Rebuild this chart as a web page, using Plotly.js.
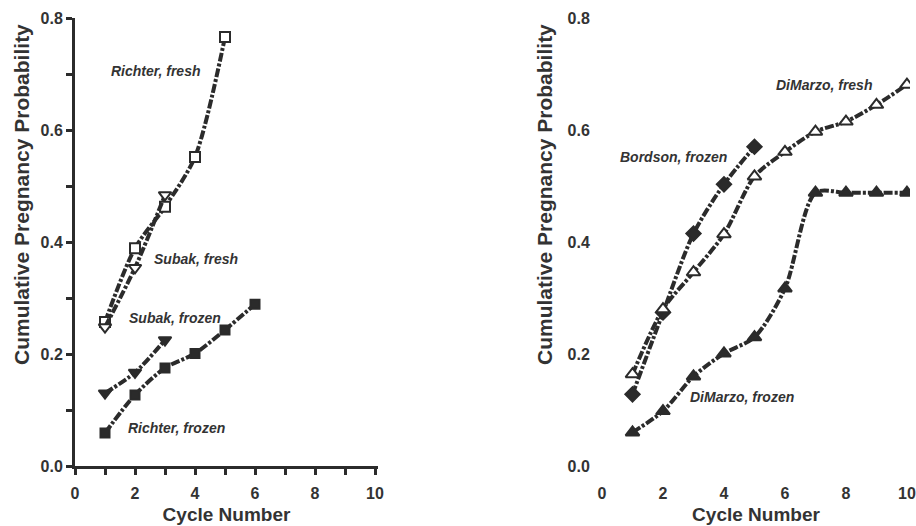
<!DOCTYPE html>
<html>
<head>
<meta charset="utf-8">
<script src="https://cdn.plot.ly/plotly-3.0.1.min.js"></script>
<style>
  html, body { margin: 0; padding: 0; background: #ffffff; }
  .layer { position: absolute; left: 0; top: 0; width: 916px; height: 526px; }
</style>
</head>
<body>
<div id="frame" class="layer"></div>
<div id="chart" class="layer"></div>
<script>
// Cumulative pregnancy probability by cycle number, fresh vs frozen donor insemination studies

// Left panel
const richterFreshCycles = [1, 2, 3, 4, 5];
const richterFresh = [0.257, 0.389, 0.463, 0.552, 0.766];
const subakFreshCycles = [1, 2, 3];
const subakFresh = [0.248, 0.354, 0.484];
const subakFrozenCycles = [1, 2, 3];
const subakFrozen = [0.130, 0.167, 0.225];
const richterFrozenCycles = [1, 2, 3, 4, 5, 6];
const richterFrozen = [0.059, 0.127, 0.175, 0.201, 0.243, 0.289];

// Right panel
const bordsonFrozenCycles = [1, 2, 3, 4, 5];
const bordsonFrozen = [0.128, 0.274, 0.415, 0.503, 0.570];
const dimarzoFreshCycles = [1, 2, 3, 4, 5, 6, 7, 8, 9, 10];
const dimarzoFresh = [0.164, 0.280, 0.346, 0.414, 0.517, 0.561, 0.597, 0.615, 0.645, 0.681];
const dimarzoFrozenCycles = [1, 2, 3, 4, 5, 6, 7, 8, 9, 10];
const dimarzoFrozen = [0.060, 0.098, 0.160, 0.201, 0.230, 0.317, 0.488, 0.488, 0.488, 0.488];

// Tick marks at every position, labels on every other one
const xTickVals = [0, 1, 2, 3, 4, 5, 6, 7, 8, 9, 10];
const xLabelVals = [0, 2, 4, 6, 8, 10];
const xLabelText = ['0', '2', '4', '6', '8', '10'];
const yTickVals = [0, 0.1, 0.2, 0.3, 0.4, 0.5, 0.6, 0.7, 0.8];
const yLabelVals = [0, 0.2, 0.4, 0.6, 0.8];
const yLabelText = ['0.0', '0.2', '0.4', '0.6', '0.8'];

const INK = '#2b2b2b';
const CLEAR = 'rgba(0,0,0,0)';
const FAMILY = 'Liberation Sans, Arial, sans-serif';
const LEFT_DOMAIN = [75 / 916, 378 / 916];
const RIGHT_DOMAIN = [602 / 916, 910 / 916];
const MARGIN = { l: 0, r: 0, t: 18, b: 60 };

// Shared geometry for both layers so the frame and the data line up exactly
function baseAxis(extra) {
  return Object.assign({
    automargin: false, showgrid: false, zeroline: false,
    showline: true, linewidth: 3, ticks: 'outside', ticklen: 6, tickwidth: 3,
    tickmode: 'array'
  }, extra);
}

// Bottom layer: heavy axis lines and all tick marks
function drawFrame(gd) {
  function fx(domain, anchor) {
    return baseAxis({ domain: domain, anchor: anchor, range: [0, 10.1], linecolor: INK, tickcolor: INK,
      tickvals: xTickVals, showticklabels: false });
  }
  function fy(anchor) {
    return baseAxis({ domain: [0, 1], anchor: anchor, range: [0, 0.8], linecolor: INK, tickcolor: INK,
      tickvals: yTickVals, showticklabels: false });
  }
  return Plotly.newPlot(gd, [], {
    width: 916, height: 526, margin: MARGIN, showlegend: false,
    paper_bgcolor: '#ffffff', plot_bgcolor: '#ffffff',
    xaxis: fx(LEFT_DOMAIN, 'y'), yaxis: fy('x'),
    xaxis2: fx(RIGHT_DOMAIN, 'y2'), yaxis2: fy('x2')
  }, { staticPlot: true, displayModeBar: false });
}

// Top layer: series, tick labels, titles and study labels
function drawData(gd) {
  const DASH = '9px,2px,3px,2px';
  const tickFont = { family: FAMILY, size: 16, color: '#333333', weight: 'bold' };
  const titleFont = { family: FAMILY, size: 19, color: '#333333', weight: 'bold' };
  const noteFont = { family: FAMILY, size: 14, color: '#333333', style: 'italic', weight: 'bold' };

  function series(x, y, symbol, filled, size, xa, ya) {
    return {
      type: 'scatter', mode: 'lines+markers', x: x, y: y,
      xaxis: xa, yaxis: ya, showlegend: false, hoverinfo: 'skip',
      line: { color: INK, width: 4, dash: DASH, shape: 'spline', smoothing: 0.8 },
      marker: { symbol: symbol, size: size, color: filled ? INK : '#ffffff', line: { color: INK, width: 2 } }
    };
  }
  function lx(domain, anchor) {
    return baseAxis({ domain: domain, anchor: anchor, range: [0, 10.1], linecolor: CLEAR, tickcolor: CLEAR,
      tickvals: xLabelVals, ticktext: xLabelText, ticklabelstandoff: 5, tickfont: tickFont,
      title: { text: 'Cycle Number', font: titleFont, standoff: 7 } });
  }
  function ly(anchor) {
    return baseAxis({ domain: [0, 1], anchor: anchor, range: [0, 0.8], linecolor: CLEAR, tickcolor: CLEAR,
      tickvals: yLabelVals, ticktext: yLabelText, tickfont: tickFont });
  }
  function note(text, x, y, xref, yref) {
    return { text: text, x: x, y: y, xref: xref, yref: yref, showarrow: false, font: noteFont };
  }
  function yTitle(x) {
    return {
      text: 'Cumulative Pregnancy Probability', textangle: -90,
      x: x, y: 0.605, xref: 'paper', yref: 'paper', xanchor: 'center', yanchor: 'middle',
      showarrow: false, font: { family: FAMILY, size: 21, color: '#333333', weight: 'bold' }
    };
  }

  const data = [
    series(richterFreshCycles, richterFresh, 'square', false, 10, 'x', 'y'),
    series(subakFreshCycles, subakFresh, 'triangle-down', false, 11, 'x', 'y'),
    series(subakFrozenCycles, subakFrozen, 'triangle-down', true, 11, 'x', 'y'),
    series(richterFrozenCycles, richterFrozen, 'square', true, 9, 'x', 'y'),
    series(bordsonFrozenCycles, bordsonFrozen, 'diamond', true, 11, 'x2', 'y2'),
    series(dimarzoFreshCycles, dimarzoFresh, 'triangle-up', false, 12, 'x2', 'y2'),
    series(dimarzoFrozenCycles, dimarzoFrozen, 'triangle-up', true, 12, 'x2', 'y2')
  ];

  return Plotly.newPlot(gd, data, {
    width: 916, height: 526, margin: MARGIN, showlegend: false,
    paper_bgcolor: CLEAR, plot_bgcolor: CLEAR,
    xaxis: lx(LEFT_DOMAIN, 'y'), yaxis: ly('x'),
    xaxis2: lx(RIGHT_DOMAIN, 'y2'), yaxis2: ly('x2'),
    annotations: [
      yTitle(22 / 916),
      yTitle(545 / 916),
      note('Richter, fresh', 2.67, 0.706, 'x', 'y'),
      note('Subak, fresh', 4.03, 0.370, 'x', 'y'),
      note('Subak, frozen', 3.33, 0.264, 'x', 'y'),
      note('Richter, frozen', 3.37, 0.068, 'x', 'y'),
      note('Bordson, frozen', 2.36, 0.551, 'x2', 'y2'),
      note('DiMarzo, fresh', 7.27, 0.680, 'x2', 'y2'),
      note('DiMarzo, frozen', 4.60, 0.123, 'x2', 'y2')
    ]
  }, { staticPlot: true, displayModeBar: false });
}

drawFrame(document.getElementById('frame'));
drawData(document.getElementById('chart'));
</script>
</body>
</html>
